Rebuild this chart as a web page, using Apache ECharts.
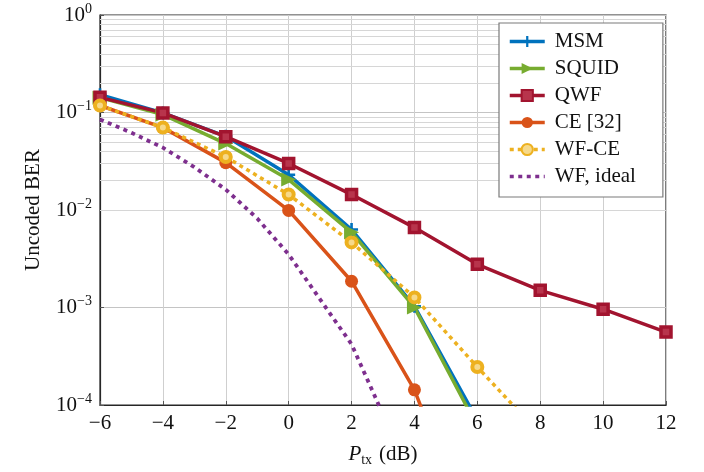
<!DOCTYPE html>
<html>
<head>
<meta charset="utf-8">
<script src="https://cdn.jsdelivr.net/npm/echarts@6/dist/echarts.min.js"></script>
<style>
  html, body { margin: 0; padding: 0; background: #fff; }
  #chart { width: 704px; height: 472px; }
</style>
</head>
<body>
<div id="chart"></div>
<script>
// ---- data ----
const xTicks = [-6, -4, -2, 0, 2, 4, 6, 8, 10, 12];
const xMarked = [-6, -4, -2, 0, 2, 4, 6, 8, 10, 12];
const msmBER   = [0.152, 0.099, 0.057, 0.023, 0.0063, 0.00103, 0.00007];
const squidBER = [0.142, 0.095, 0.048, 0.0205, 0.0059, 0.0010, 0.00006];
const qwfBER   = [0.143, 0.099, 0.0565, 0.030, 0.0144, 0.0066, 0.00277, 0.0015, 0.00096, 0.00056];
const ceBER    = [0.118, 0.070, 0.0306, 0.0099, 0.00186, 0.000143, 0.000003];
const wfceBER  = [0.118, 0.070, 0.035, 0.0144, 0.00465, 0.00127, 0.000245, 0.00005];
const wfIdealX = [-6, -5, -4, -3, -2, -1, 0, 1, 2, 3];
const wfIdealBER = [0.085, 0.062, 0.0436, 0.0275, 0.0162, 0.0082, 0.0035, 0.00121, 0.00042, 0.00008];
const yDecades = [-4, -3, -2, -1, 0];
const seriesNames = ['MSM', 'SQUID', 'QWF', 'CE [32]', 'WF-CE', 'WF, ideal'];

// minor log grid values (2..9 × 10^k)
const minorGrid = [];
yDecades.slice(0, -1).forEach(function (d) {
  for (let m = 2; m <= 9; m++) minorGrid.push(m * Math.pow(10, d));
});

function pairs(xs, ys) { return ys.map(function (v, i) { return [xs[i], v]; }); }

const FONT = 'Liberation Serif';
const plusPath = 'path://M4,0H6V4H10V6H6V10H4V6H0V4H4Z';

const chart = echarts.init(document.getElementById('chart'), null, { renderer: 'canvas' });

const lineBase = { type: 'line', clip: true, z: 3 };

const legendData = seriesNames.map(function (n) {
  const d = { name: n, lineStyle: { width: 3.5 } };
  if (n === 'WF, ideal') d.itemStyle = { opacity: 0 };
  return d;
});

const option = {
  animation: false,
  backgroundColor: '#ffffff',
  textStyle: { fontFamily: FONT },
  grid: {
    left: 100, right: 38, top: 15, bottom: 66,
    show: true, borderColor: '#262626', borderWidth: 1.2, backgroundColor: 'transparent'
  },
  legend: {
    orient: 'vertical',
    left: 499, top: 23, z: 10,
    padding: [8, 27, 10, 9],
    backgroundColor: '#fff',
    borderColor: '#7a7a7a',
    borderWidth: 1.2,
    itemWidth: 35, itemHeight: 14,
    itemGap: 6,
    lineStyle: { width: 3.5 },
    formatter: '{a|{name}}',
    textStyle: {
      fontFamily: FONT, fontSize: 21, color: '#111', lineHeight: 21,
      rich: { a: { fontFamily: FONT, fontSize: 21, color: '#111', lineHeight: 21, padding: [0, 0, 0, 5] } }
    },
    data: legendData
  },
  xAxis: {
    type: 'value', min: -6, max: 12, interval: 2,
    name: '{i|P}{s|tx}{n|(dB)}',
    nameLocation: 'middle', nameGap: 36,
    nameTextStyle: {
      rich: {
        i: { fontFamily: FONT, fontStyle: 'italic', fontSize: 21, lineHeight: 26, color: '#111' },
        s: { fontFamily: FONT, fontSize: 14, lineHeight: 14, verticalAlign: 'bottom', color: '#111' },
        n: { fontFamily: FONT, fontSize: 21, lineHeight: 26, color: '#111', padding: [0, 0, 0, 7] }
      }
    },
    axisLine: { show: true, onZero: false, lineStyle: { color: '#262626', width: 1.2 } },
    axisTick: { show: true, inside: true, length: 4, lineStyle: { color: '#555' } },
    axisLabel: {
      margin: 8, fontFamily: FONT, fontSize: 21, color: '#111',
      formatter: function (v) { return String(v).replace('-', '\u2212'); }
    },
    splitLine: { show: true, lineStyle: { color: '#cfcfcf', width: 1 } }
  },
  yAxis: {
    type: 'log', logBase: 10, min: 1e-4, max: 1, interval: 1,
    name: 'Uncoded BER',
    nameLocation: 'middle', nameGap: 56, nameRotate: 90,
    nameTextStyle: { fontFamily: FONT, fontSize: 21, color: '#111' },
    axisLine: { show: true, onZero: false, lineStyle: { color: '#262626', width: 1.2 } },
    axisTick: { show: true, inside: true, length: 4, lineStyle: { color: '#555' } },
    axisLabel: {
      margin: 8,
      formatter: function (v) {
        const e = Math.round(Math.log10(v));
        const es = e < 0 ? '\u2212' + (-e) : String(e);
        return '{b|10}{s|' + es + '}';
      },
      rich: {
        b: { fontFamily: FONT, fontSize: 21, lineHeight: 26, color: '#111' },
        s: { fontFamily: FONT, fontSize: 14, lineHeight: 14, verticalAlign: 'top', color: '#111' }
      }
    },
    splitLine: { show: true, lineStyle: { color: '#c4c4c4', width: 1.2 } }
  },
  series: [
    {
      // minor log grid lines
      type: 'line', name: '_grid', data: [], silent: true, z: 1,
      markLine: {
        silent: true, symbol: 'none', label: { show: false }, z: 1,
        lineStyle: { color: '#d6d6d6', width: 1, type: 'solid' },
        data: minorGrid.map(function (v) { return { yAxis: v }; }),
        animation: false
      }
    },
    Object.assign({}, lineBase, {
      name: 'MSM', data: pairs(xMarked, msmBER),
      symbol: plusPath, symbolSize: 13,
      color: '#0072BD',
      lineStyle: { color: '#0072BD', width: 3.5 },
      itemStyle: { color: '#0072BD' }
    }),
    Object.assign({}, lineBase, {
      name: 'SQUID', data: pairs(xMarked, squidBER),
      symbol: 'triangle', symbolRotate: -90, symbolSize: [14, 15],
      color: '#77AC30',
      lineStyle: { color: '#77AC30', width: 3.5 },
      itemStyle: { color: '#77AC30' }
    }),
    Object.assign({}, lineBase, {
      name: 'QWF', data: pairs(xMarked, qwfBER),
      symbol: 'rect', symbolSize: 10,
      color: '#A2142F',
      lineStyle: { color: '#A2142F', width: 3.5 },
      itemStyle: { color: '#b8344c', borderColor: '#A2142F', borderWidth: 3.5 }
    }),
    Object.assign({}, lineBase, {
      name: 'CE [32]', data: pairs(xMarked, ceBER),
      symbol: 'circle', symbolSize: 13,
      color: '#D95319',
      lineStyle: { color: '#D95319', width: 3.5 },
      itemStyle: { color: '#D95319' }
    }),
    Object.assign({}, lineBase, {
      name: 'WF-CE', data: pairs(xMarked, wfceBER),
      symbol: 'circle', symbolSize: 10,
      color: '#EDB120',
      lineStyle: { color: '#EDB120', width: 3.5, type: [4, 4] },
      itemStyle: { color: '#f6d98a', borderColor: '#EDB120', borderWidth: 4 }
    }),
    Object.assign({}, lineBase, {
      name: 'WF, ideal', data: pairs(wfIdealX, wfIdealBER),
      symbol: 'none', showSymbol: false,
      color: '#7E2F8E',
      lineStyle: { color: '#7E2F8E', width: 3.8, type: [4, 4.5] }
    })
  ]
};

chart.setOption(option);
</script>
</body>
</html>
